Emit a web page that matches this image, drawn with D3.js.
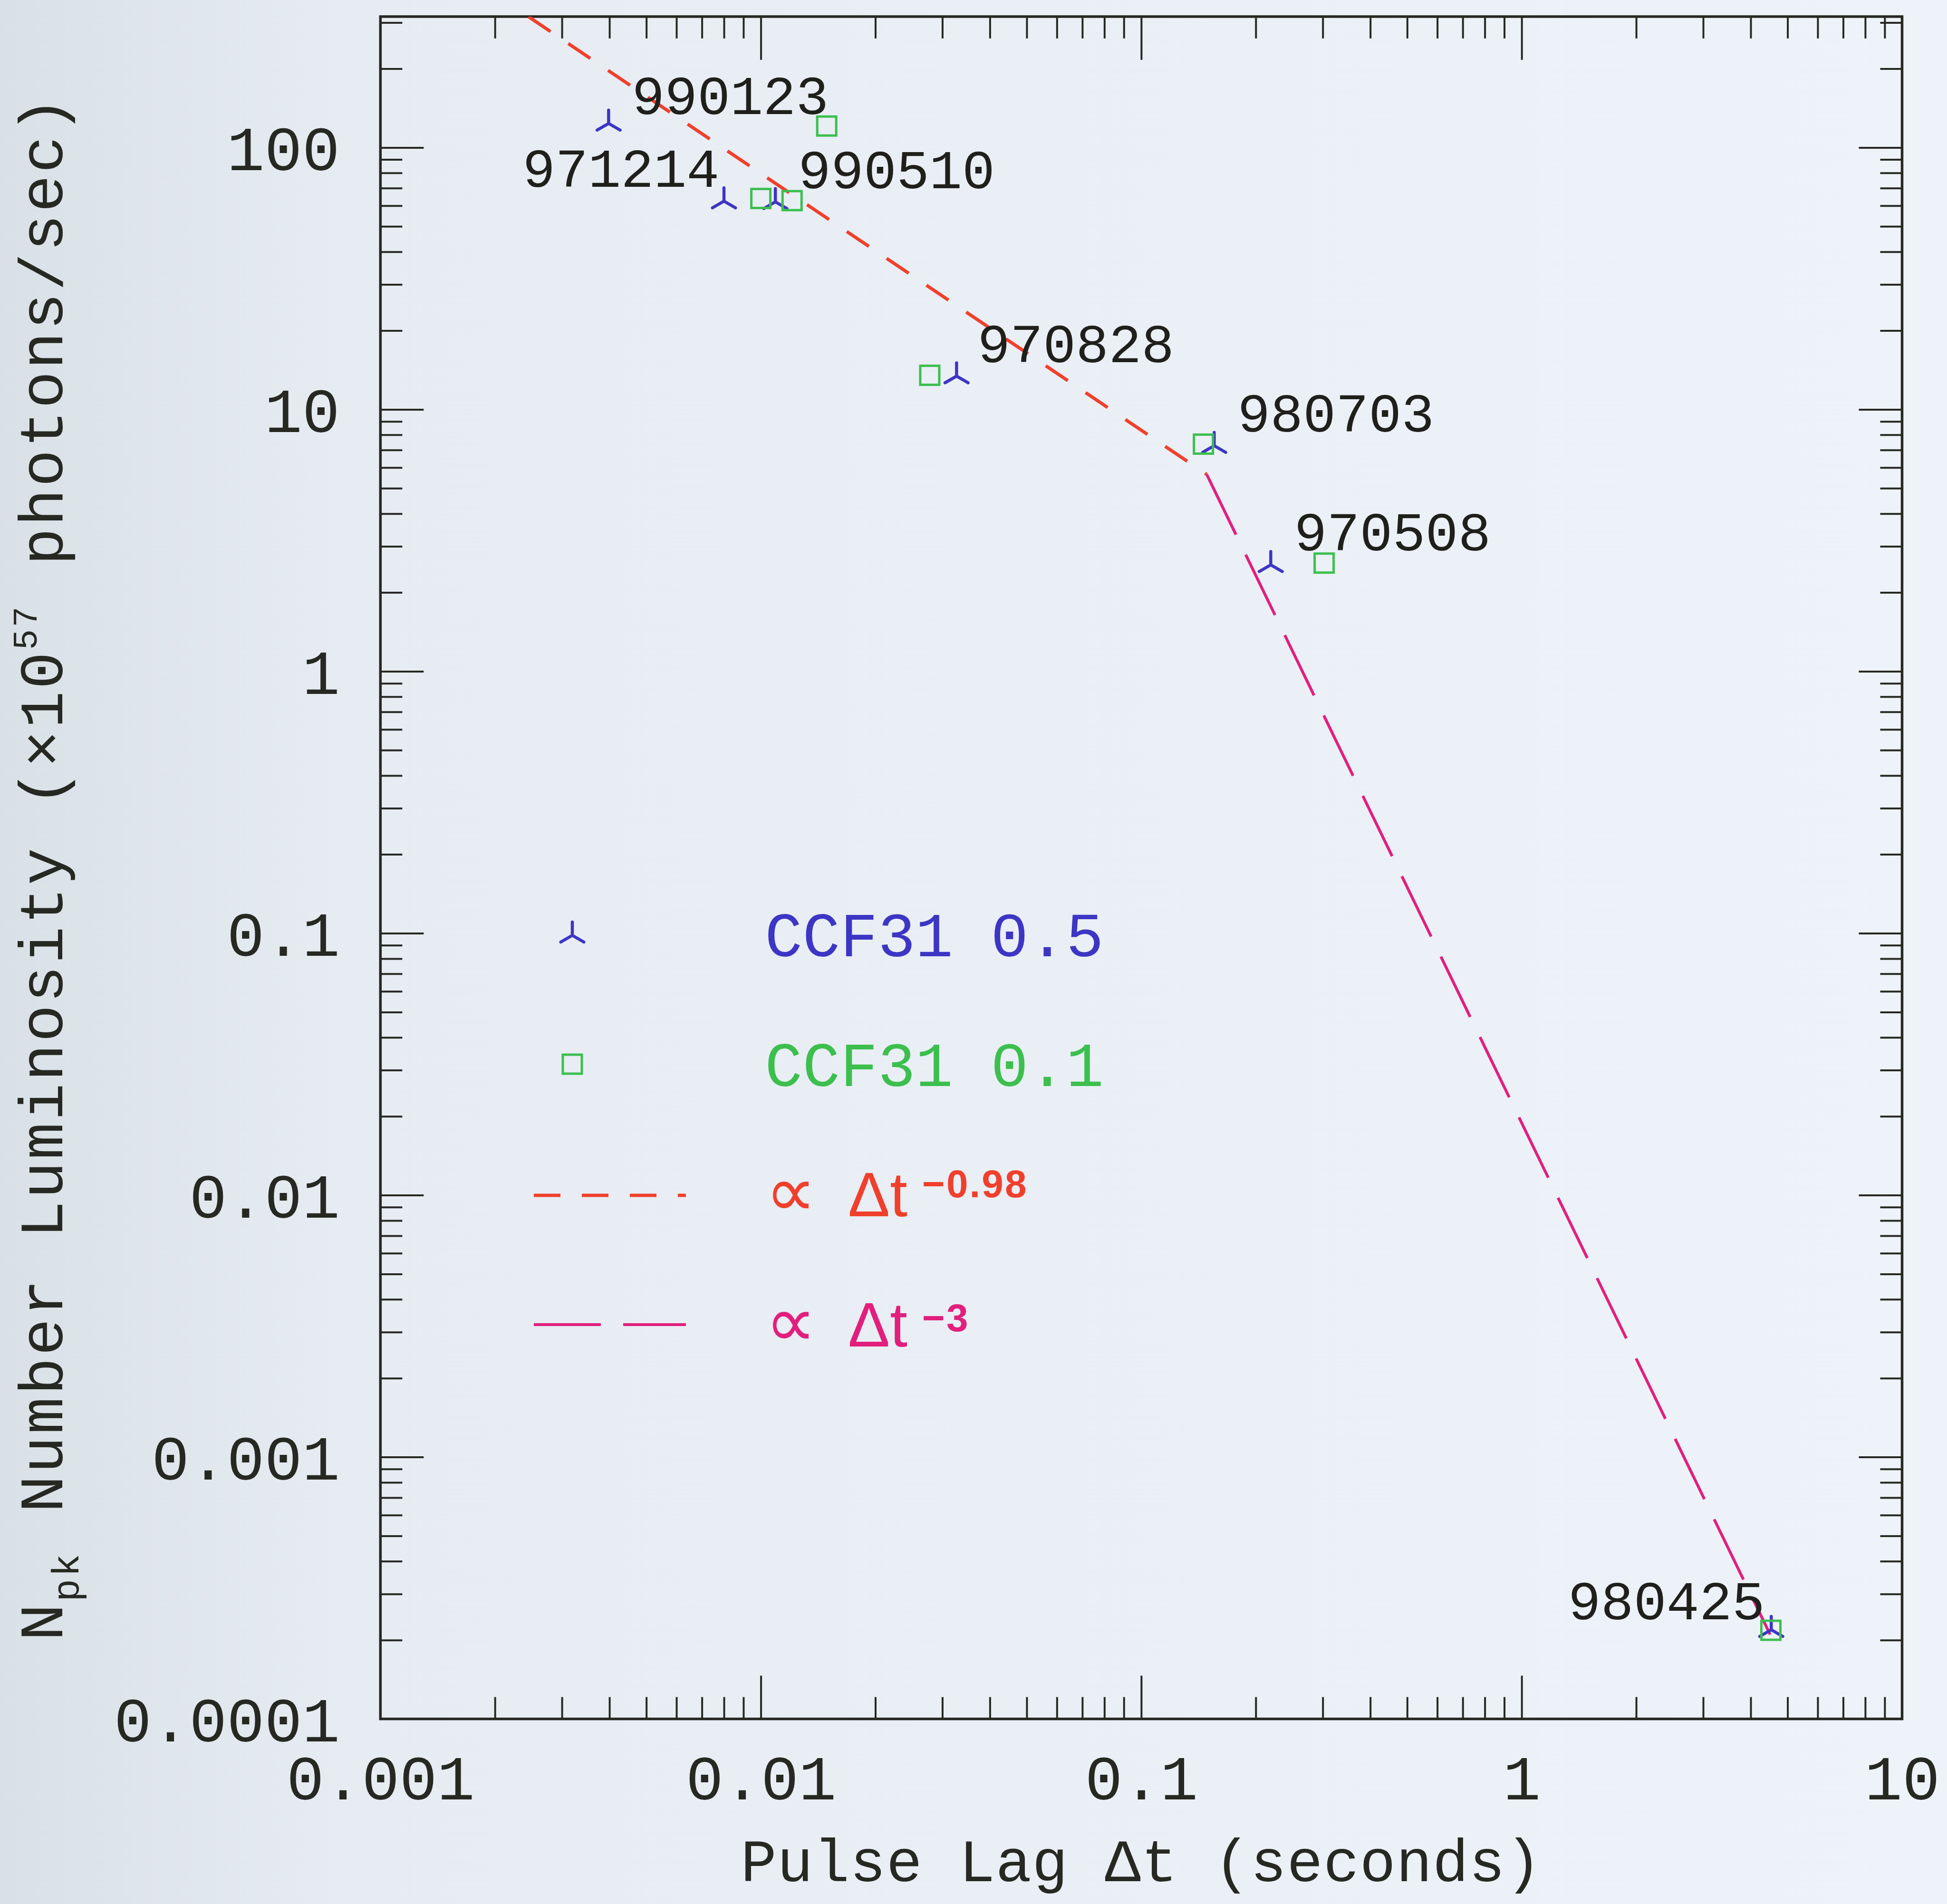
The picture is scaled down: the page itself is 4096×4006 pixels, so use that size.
<!DOCTYPE html>
<html>
<head>
<meta charset="utf-8">
<script src="https://cdn.jsdelivr.net/npm/d3@7"></script>
<style>
  html, body { margin: 0; padding: 0; background: #eaf0f6; }
  svg { display: block; }
</style>
</head>
<body>
<script>
// ---- data -------------------------------------------------------------
// burst identifiers (YYMMDD)
const bursts = ["990123", "971214", "990510", "970828", "980703", "970508", "980425"];

// CCF31 lag measured at the 0.5 level: pulse lag (s) and peak luminosity (1e57 ph/s)
const lagCCF05 = [0.00398, 0.00800, 0.01092, 0.0327, 0.1555, 0.219, 4.53];
const lumCCF05 = [123.6, 62.4, 62.0, 13.4, 7.27, 2.55, 0.000219];

// CCF31 lag measured at the 0.1 level
const lagCCF01 = [0.0149, 0.0100, 0.01208, 0.0278, 0.1457, 0.3025, 4.52];
const lumCCF01 = [120.8, 63.9, 62.7, 13.5, 7.37, 2.59, 0.000218];

// where each burst name is written (lag, luminosity)
const labelLag = [0.00458, 0.002363, 0.01253, 0.0371, 0.179, 0.2523, 1.324];
const labelLum = [134.4, 70.9, 69.8, 15.14, 8.22, 2.89, 0.000240];

// power-law fits, end points (lag, luminosity)
const fitShallowLag = [0.00245, 0.1486];
const fitShallowLum = [316.0, 5.65];
const fitSteepLag = [0.1486, 4.5];
const fitSteepLum = [5.65, 0.00021];

// axes
const xDomain = [0.001, 10];
const yDomain = [0.0001, 316.2];
const xTickValues = [0.001, 0.01, 0.1, 1, 10];
const xTickLabels = ["0.001", "0.01", "0.1", "1", "10"];
const yTickValues = [0.0001, 0.001, 0.01, 0.1, 1, 10, 100];
const yTickLabels = ["0.0001", "0.001", "0.01", "0.1", "1", "10", "100"];

// ---- layout ------------------------------------------------------------
const W = 4096, H = 4006;
const plot = { left: 800.3, right: 4001.5, top: 34.9, bottom: 3616.6 };
const ink = "#262822";
const blue = "#3d35c4";
const green = "#3cbf4e";
const red = "#f0402c";
const magenta = "#e21f7c";
const mono = "'Liberation Mono', 'DejaVu Sans Mono', monospace";
const sans = "'Liberation Sans', Arial, sans-serif";

const svg = d3.select("body").append("svg")
  .attr("width", W).attr("height", H);

const defs = svg.append("defs");
const paper = defs.append("linearGradient").attr("id", "paper")
  .attr("x1", 0).attr("x2", 1).attr("y1", 0).attr("y2", 0);
paper.append("stop").attr("offset", 0).attr("stop-color", "#d9e0e6");
paper.append("stop").attr("offset", 0.18).attr("stop-color", "#e6ecf2");
paper.append("stop").attr("offset", 1).attr("stop-color", "#eef3f9");
svg.append("rect").attr("width", W).attr("height", H).attr("fill", "url(#paper)");

defs.append("clipPath").attr("id", "plotClip")
  .append("rect")
  .attr("x", plot.left).attr("y", plot.top)
  .attr("width", plot.right - plot.left).attr("height", plot.bottom - plot.top);

const x = d3.scaleLog().domain(xDomain).range([plot.left, plot.right]);
const y = d3.scaleLog().domain(yDomain).range([plot.bottom, plot.top]);

// minor ticks 2..9 inside each decade
function minorTicks(lo, hi) {
  const out = [];
  for (let e = Math.floor(Math.log10(lo)); e <= Math.ceil(Math.log10(hi)); e++) {
    for (let m = 2; m <= 9; m++) {
      const v = m * Math.pow(10, e);
      if (v > lo * 1.0001 && v < hi * 0.9999) out.push(v);
    }
  }
  return out;
}
const xMinor = minorTicks(xDomain[0], xDomain[1]);
const yMinor = minorTicks(yDomain[0], yDomain[1]);
const majorLen = 91, minorLen = 46;

function tickLayer(axis, tx, ty) {
  const g = svg.append("g").attr("transform", `translate(${tx},${ty})`).call(axis);
  g.select(".domain").remove();
  g.selectAll(".tick line").attr("stroke", ink).attr("stroke-width", 4);
  g.selectAll(".tick text").remove();
  return g;
}
[[xTickValues, majorLen], [xMinor, minorLen]].forEach(([vals, len]) => {
  tickLayer(d3.axisBottom(x).tickValues(vals).tickSizeInner(-len).tickSizeOuter(0).tickFormat(""), 0, plot.bottom);
  tickLayer(d3.axisTop(x).tickValues(vals).tickSizeInner(-len).tickSizeOuter(0).tickFormat(""), 0, plot.top);
});
[[yTickValues, majorLen], [yMinor, minorLen]].forEach(([vals, len]) => {
  tickLayer(d3.axisLeft(y).tickValues(vals).tickSizeInner(-len).tickSizeOuter(0).tickFormat(""), plot.left, 0);
  tickLayer(d3.axisRight(y).tickValues(vals).tickSizeInner(-len).tickSizeOuter(0).tickFormat(""), plot.right, 0);
});

// frame
svg.append("rect")
  .attr("x", plot.left).attr("y", plot.top)
  .attr("width", plot.right - plot.left).attr("height", plot.bottom - plot.top)
  .attr("fill", "none").attr("stroke", ink).attr("stroke-width", 5.5);

// tick labels
const xLab = svg.append("g").attr("transform", `translate(0,${plot.bottom})`)
  .call(d3.axisBottom(x).tickValues(xTickValues).tickSize(0).tickFormat((d, i) => xTickLabels[i]));
xLab.select(".domain").remove();
xLab.selectAll("text")
  .attr("y", 3786 - plot.bottom).attr("dy", 0)
  .attr("fill", ink).style("font-family", mono).style("font-size", "132px");

const yLab = svg.append("g").attr("transform", `translate(${plot.left},0)`)
  .call(d3.axisLeft(y).tickValues(yTickValues).tickSize(0).tickFormat((d, i) => yTickLabels[i]));
yLab.select(".domain").remove();
yLab.selectAll("text")
  .attr("x", 715 - plot.left).attr("dy", 0)
  .attr("y", 47)
  .attr("fill", ink).style("font-family", mono).style("font-size", "132px");

// axis titles
svg.append("text")
  .attr("x", (plot.left + plot.right) / 2).attr("y", 3958)
  .attr("text-anchor", "middle")
  .attr("fill", ink).style("font-family", mono).style("font-size", "126px")
  .style("letter-spacing", "1px")
  .text("Pulse Lag \u0394t (seconds)");

const yTitle = svg.append("text")
  .attr("transform", `translate(131,${(plot.top + plot.bottom) / 2}) rotate(-90)`)
  .attr("text-anchor", "middle")
  .attr("fill", ink).style("font-family", mono).style("font-size", "130px")
  .style("letter-spacing", "4.5px");
yTitle.append("tspan").text("N");
yTitle.append("tspan").attr("dy", 34).style("font-size", "80px").text("pk");
yTitle.append("tspan").attr("dy", -34).text(" Number Luminosity (\u00d710");
yTitle.append("tspan").attr("dy", -54).style("font-size", "72px").text("57");
yTitle.append("tspan").attr("dy", 54).text(" photons/sec)");

// fitted power laws
const line = d3.line().x(d => x(d[0])).y(d => y(d[1]));
const fits = svg.append("g").attr("clip-path", "url(#plotClip)");
fits.append("path")
  .attr("d", line(d3.zip(fitShallowLag, fitShallowLum)))
  .attr("fill", "none").attr("stroke", red).attr("stroke-width", 7)
  .attr("stroke-dasharray", "56 45");
fits.append("path")
  .attr("d", line(d3.zip(fitSteepLag, fitSteepLum)))
  .attr("fill", "none").attr("stroke", magenta).attr("stroke-width", 6)
  .attr("stroke-dasharray", "141 47");

// markers
const triR = 28;
const triPath = `M0,0L0,${-triR}M0,0L${-triR * 0.866},${triR * 0.5}M0,0L${triR * 0.866},${triR * 0.5}`;
const sq = 40;

const pts = svg.append("g");
pts.selectAll("path.ccf05")
  .data(d3.zip(lagCCF05, lumCCF05))
  .join("path").attr("class", "ccf05")
  .attr("transform", d => `translate(${x(d[0])},${y(d[1])})`)
  .attr("d", triPath)
  .attr("fill", "none").attr("stroke", blue).attr("stroke-width", 6.5).attr("stroke-linecap", "round");
pts.selectAll("rect.ccf01")
  .data(d3.zip(lagCCF01, lumCCF01))
  .join("rect").attr("class", "ccf01")
  .attr("x", d => x(d[0]) - sq / 2).attr("y", d => y(d[1]) - sq / 2)
  .attr("width", sq).attr("height", sq)
  .attr("fill", "none").attr("stroke", green).attr("stroke-width", 5);

// burst names
svg.append("g").selectAll("text")
  .data(bursts.map((b, i) => ({ name: b, lag: labelLag[i], lum: labelLum[i] })))
  .join("text")
  .attr("x", d => x(d.lag)).attr("y", d => y(d.lum))
  .attr("fill", "#1f201c").style("font-family", mono).style("font-size", "115px")
  .text(d => d.name);

// legend
const leg = svg.append("g");
leg.append("path").attr("transform", "translate(1204,1968)").attr("d", triPath)
  .attr("fill", "none").attr("stroke", blue).attr("stroke-width", 6.5).attr("stroke-linecap", "round");
leg.append("text").attr("x", 1609).attr("y", 2012)
  .attr("fill", blue).style("font-family", mono).style("font-size", "132px").text("CCF31 0.5");
leg.append("rect").attr("x", 1204 - sq / 2).attr("y", 2239 - sq / 2).attr("width", sq).attr("height", sq)
  .attr("fill", "none").attr("stroke", green).attr("stroke-width", 5);
leg.append("text").attr("x", 1609).attr("y", 2285)
  .attr("fill", green).style("font-family", mono).style("font-size", "132px").text("CCF31 0.1");

leg.append("line").attr("x1", 1123).attr("x2", 1443).attr("y1", 2515).attr("y2", 2515)
  .attr("stroke", red).attr("stroke-width", 7).attr("stroke-dasharray", "56 45");
leg.append("line").attr("x1", 1123).attr("x2", 1443).attr("y1", 2787).attr("y2", 2787)
  .attr("stroke", magenta).attr("stroke-width", 6).attr("stroke-dasharray", "141 47");

function powerLabel(color, baseY, supY, exponent) {
  leg.append("text").attr("x", 1610).attr("y", baseY)
    .attr("fill", color).style("font-family", "'DejaVu Sans', sans-serif").style("font-size", "150px")
    .text("\u221d");
  leg.append("text").attr("x", 1784).attr("y", baseY)
    .attr("fill", color).style("font-family", sans).style("font-size", "132px")
    .text("\u0394t");
  leg.append("text").attr("x", 1940).attr("y", supY)
    .attr("fill", color).style("font-family", sans).style("font-size", "82px").style("font-weight", "bold")
    .style("letter-spacing", "3px")
    .text(exponent);
}
powerLabel(red, 2559, 2519, "\u22120.98");
powerLabel(magenta, 2833, 2801, "\u22123");
</script>
</body>
</html>
